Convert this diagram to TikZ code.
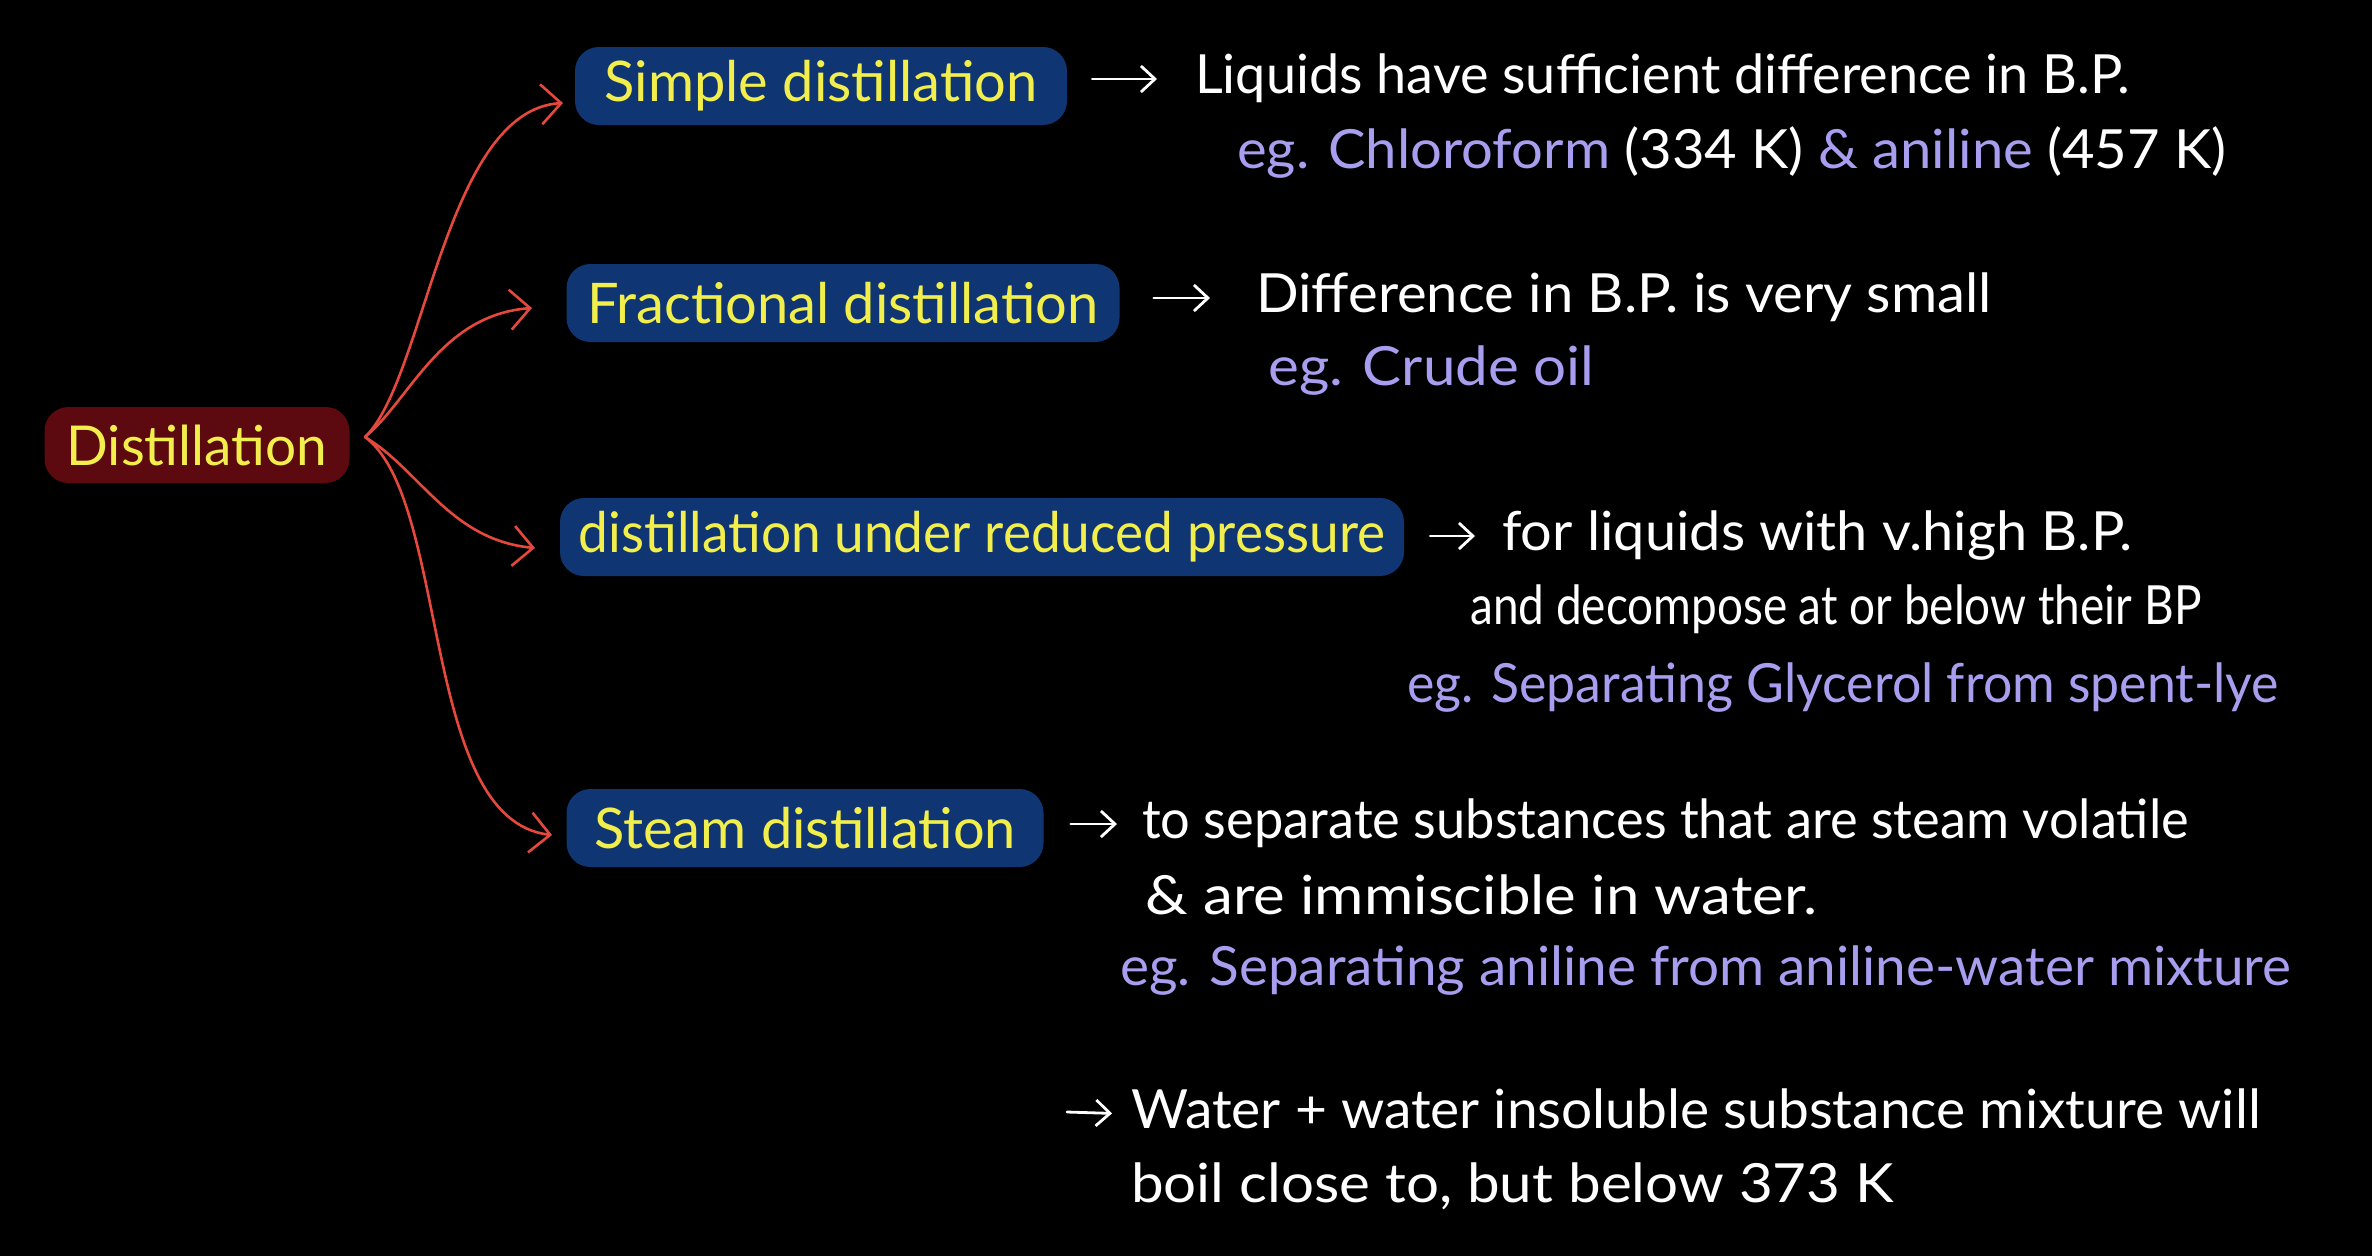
\documentclass[tikz,border=0pt]{standalone}
\usepackage{fontspec}
\setmainfont{Lato}
\usetikzlibrary{arrows.meta}
\definecolor{hlred}{HTML}{5C0A10}
\definecolor{hlblue}{HTML}{0F3673}
\definecolor{hlyellow}{HTML}{F2EE4C}
\definecolor{arred}{HTML}{E5483C}
\definecolor{egviolet}{HTML}{A79EF0}
\newcommand\sx[2]{\scalebox{#1}[1]{#2}}
\tikzset{
  hlbox/.style={fill=hlblue, text=hlyellow, rounded corners=24pt, inner xsep=4pt, inner ysep=0pt,
    minimum height=78pt, font=\fontsize{56}{62}\selectfont},
  rootbox/.style={fill=hlred, text=hlyellow, rounded corners=24pt, inner sep=0pt,
    minimum height=76pt, minimum width=305pt, font=\fontsize{55}{60}\selectfont},
  txt/.style={anchor=west, text=white, inner sep=0pt, text height=40pt, text depth=12pt,
    font=\fontsize{54}{60}\selectfont},
  eg/.style={txt, text=egviolet},
  redarrow/.style={draw=arred, line width=2.6pt, line cap=round,
    -{Straight Barb[length=20pt,width=40pt,line width=2.6pt]}},
  whitearrow/.style={draw=white, line width=2.8pt, line cap=round,
    -{Straight Barb[length=14pt,width=26pt,line width=2.8pt]}}
}
\begin{document}
\begin{tikzpicture}[x=1pt,y=-1pt]
\fill[black] (0,0) rectangle (2372,1256);
\useasboundingbox (0,0) rectangle (2372,1256);

% root
\node[rootbox] (root) at (197,445) {Distillation};
\coordinate (o) at (365,437);

% method boxes
\node[hlbox, minimum width=492pt] (simple) at (821,86) {Simple distillation};
\node[hlbox, minimum width=553pt] (frac) at (843,303) {Fractional distillation};
\node[hlbox, minimum width=844pt, inner xsep=14pt] (reduced) at (982,537) {\sx{0.95}{distillation under reduced pressure}};
\node[hlbox, minimum width=477pt] (steam) at (805,828) {Steam distillation};

% red arrows
\coordinate (t1) at (563,103);
\coordinate (t2) at (532,308);
\coordinate (t3) at (535,548);
\coordinate (t4) at (552,835);
\draw[redarrow] (o) .. controls (425,380) and (445,110) .. (t1);
\draw[redarrow] (o) .. controls (410,400) and (440,315) .. (t2);
\draw[redarrow] (o) .. controls (420,470) and (450,540) .. (t3);
\draw[redarrow] (o) .. controls (450,500) and (420,820) .. (t4);

% simple
\node[txt] (s1) at (1195,79) {Liquids have sufficient difference in B.P.};
\node[eg] (s2) at (1237,154) {\sx{1.04}{eg. Chloroform \textcolor{white}{(334 K)} \& aniline \textcolor{white}{(457 K)}}};
\draw[whitearrow, shorten <=25pt, shorten >=38pt] (simple.east |- s1.west) -- (s1.west);

% fractional
\node[txt] (f1) at (1256,298) {\sx{1.04}{Difference in B.P. is very small}};
\node[eg] (f2) at (1268,371) {\sx{1.08}{eg. Crude oil}};
\draw[whitearrow, shorten <=34pt, shorten >=46pt] (frac.east |- f1.west) -- (f1.west);

% reduced
\node[txt] (r1) at (1502,536) {\sx{1.035}{for liquids with v.high B.P.}};
\node[txt] (r2) at (1470,610) {\sx{0.85}{and decompose at or below their BP}};
\node[eg] (r3) at (1407,688) {\sx{0.96}{eg. Separating Glycerol from spent-lye}};
\draw[whitearrow, shorten <=26pt, shorten >=27pt] (reduced.east |- r1.west) -- (r1.west);

% steam
\node[txt] (st1) at (1142,824) {\sx{0.97}{to separate substances that are steam volatile}};
\node[txt] (st2) at (1145,900) {\sx{1.11}{\& are immiscible in water.}};
\node[eg] (st3) at (1120,971) {\sx{1.016}{eg. Separating aniline from aniline-water mixture}};
\draw[whitearrow, shorten <=27pt, shorten >=25pt] (steam.east |- st1.west) -- (st1.west);

% last note
\node[txt] (w1) at (1131,1114) {\sx{1.02}{Water + water insoluble substance mixture will}};
\node[txt] (w2) at (1131,1188) {\sx{1.08}{boil close to, but below 373 K}};
\coordinate (w0) at (1067,1112);
\draw[whitearrow, shorten >=19pt] (w0) -- (w1.west);
\end{tikzpicture}
\end{document}
